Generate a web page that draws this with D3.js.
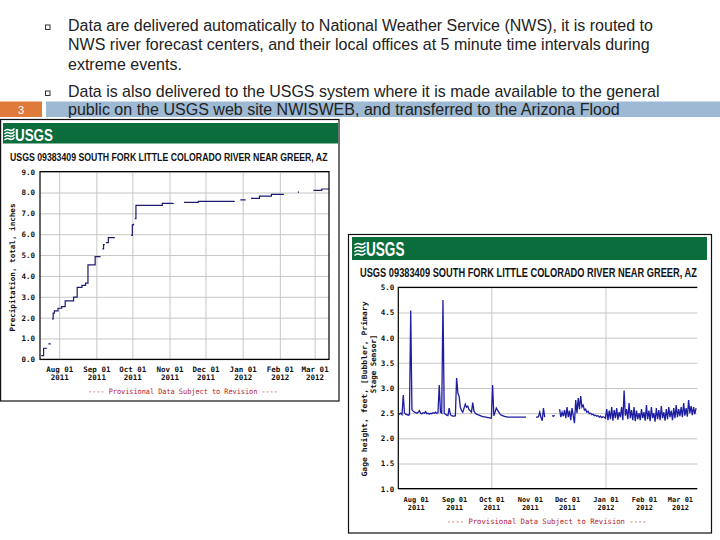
<!DOCTYPE html>
<html>
<head>
<meta charset="utf-8">
<script src="https://cdnjs.cloudflare.com/ajax/libs/d3/7.8.5/d3.min.js"></script>
<style>
  body { margin: 0; background: #fff; }
  svg { display: block; }
</style>
</head>
<body>
<script>
// slide text
const bulletText = [
  ["Data are delivered automatically to National Weather Service (NWS), it is routed to",
   "NWS river forecast centers, and their local offices at 5 minute time intervals during",
   "extreme events."],
  ["Data is also delivered to the USGS system where it is made available to the general",
   "public on the USGS web site NWISWEB, and transferred to the Arizona Flood"]
];
const slideNumber = "3";
const stationTitle = "USGS 09383409 SOUTH FORK LITTLE COLORADO RIVER NEAR GREER, AZ";
const provisional = "---- Provisional Data Subject to Revision ----";

// x axis ticks (shared by both graphs)
const monthTicks = ["2011-08-01", "2011-09-01", "2011-10-01", "2011-11-01",
                    "2011-12-01", "2012-01-01", "2012-02-01", "2012-03-01"];
const monthLabels = ["Aug 01", "Sep 01", "Oct 01", "Nov 01", "Dec 01", "Jan 01", "Feb 01", "Mar 01"];
const yearLabels = ["2011", "2011", "2011", "2011", "2011", "2012", "2012", "2012"];

// precipitation, total, inches (cumulative, gaps = null)
const precipDates = [
  "2011-07-17", "2011-07-19", "2011-07-22", "2011-07-22", "2011-07-23", "2011-07-25", "2011-07-25",
  "2011-07-26", "2011-07-27", "2011-07-28", "2011-07-31", "2011-08-03", "2011-08-06", "2011-08-13",
  "2011-08-16", "2011-08-20", "2011-08-23", "2011-08-25", "2011-08-31", "2011-09-04", "2011-09-04",
  "2011-09-06", "2011-09-07", "2011-09-08", "2011-09-08", "2011-09-09", "2011-09-11", "2011-09-16",
  "2011-09-16", "2011-09-30", "2011-10-01", "2011-10-02", "2011-10-02", "2011-10-03", "2011-10-04",
  "2011-10-26", "2011-11-04", "2011-11-04", "2011-11-13", "2011-11-25", "2011-12-25", "2011-12-25",
  "2011-12-30", "2012-01-03", "2012-01-03", "2012-01-08", "2012-01-15", "2012-01-25", "2012-02-04",
  "2012-02-04", "2012-02-16", "2012-02-17", "2012-02-17", "2012-02-29", "2012-03-07", "2012-03-13"
];
const precipValues = [
  0.18, 0.53, 0.53, null, 0.74, 0.74, null,
  1.94, 2.22, 2.32, 2.45, 2.53, 2.80, 2.98,
  3.45, 3.55, 3.65, 4.53, 4.93, 4.95, null,
  5.30, 5.50, 5.50, null, 5.60, 5.84, 5.86,
  null, 5.95, 6.45, 6.50, null, 6.75, 7.38,
  7.48, 7.50, null, 7.53, 7.58, 7.60, null,
  7.65, 7.68, null, 7.72, 7.83, 7.91, 7.93,
  null, 8.02, 8.02, null, 8.10, 8.17, 8.17
];

// gage height, feet: one reading per day from stageStart (gaps = null)
const stageStart = "2011-07-18";
const stageJul = [2.50, 2.48, 2.50, 2.47, 2.86, 2.50, 2.48, 2.47, 2.46, 2.47, 4.54, 2.57, 2.54, 2.52];
const stageAug = [2.51, 2.50, 2.52, 2.55, 2.50, 2.49, 2.51, 2.50, 2.53, 2.49, 2.50, 2.48, 2.50, 2.49, 2.51, 2.50,
                  2.52, 2.50, 2.51, 3.06, 2.52, 2.50, 4.75, 2.50, 2.48, 2.46, 2.45, 2.60, 2.47, 2.45, 2.44];
const stageSep = [2.44, 2.45, 3.20, 2.90, 2.84, 2.62, 2.55, 2.52, 2.60, 2.68, 2.62, 2.64, 2.57, 2.55, 2.52,
                  2.71, 2.54, 2.50, 2.48, 2.47, 2.46, 2.45, 2.44, 2.43, 2.43, 2.42, 2.42, 2.41, 2.41, 2.40];
const stageOct = [2.40, 3.06, 2.45, 2.52, 2.60, 2.56, 2.52, 2.48, 2.46, 2.45, 2.44, 2.43, 2.43, 2.42, 2.42, 2.42,
                  2.42, 2.42, 2.42, 2.42, 2.42, 2.42, 2.42, 2.42, 2.42, 2.42, 2.42, 2.42, 2.42, null, null];
const stageNov = [null, null, null, null, null, 2.42, 2.42, 2.43, 2.52, 2.42, 2.35, 2.60, 2.42, null, null,
                  null, null, null, 2.45, 2.44, 2.46, null, null, null, 2.58, 2.42, 2.52, 2.44, 2.56, 2.40];
const stageDec = [2.62, 2.42, 2.55, 2.36, 2.60, 2.45, 2.30, 2.76, 2.50, 2.80, 2.58, 2.84, 2.62, 2.66, 2.56, 2.58,
                  2.52, 2.54, 2.49, 2.50, 2.47, 2.48, 2.45, 2.46, 2.44, 2.45, 2.42, 2.44, 2.41, 2.43, 2.42];
const stageJan = [2.40, 2.58, 2.36, 2.55, 2.38, 2.62, 2.35, 2.56, 2.40, 2.60, 2.37, 2.52, 2.42, 2.62, 2.36, 2.95,
                  2.45, 2.58, 2.38, 2.70, 2.40, 2.56, 2.36, 2.62, 2.34, 2.55, 2.38, 2.50, 2.36, 2.58, 2.40];
const stageFeb = [2.52, 2.35, 2.66, 2.38, 2.55, 2.34, 2.62, 2.40, 2.50, 2.33, 2.60, 2.38, 2.56, 2.36, 2.64,
                  2.40, 2.52, 2.35, 2.58, 2.38, 2.62, 2.42, 2.55, 2.36, 2.60, 2.40, 2.66, 2.42, 2.58];
const stageMar = [2.44, 2.62, 2.42, 2.70, 2.45, 2.60, 2.43, 2.76, 2.50, 2.64, 2.46, 2.62, 2.48, 2.60];

const precipTicks = [0, 1, 2, 3, 4, 5, 6, 7, 8, 9];
const stageTicks = [1.0, 1.5, 2.0, 2.5, 3.0, 3.5, 4.0, 4.5, 5.0];

const parse = d3.timeParse("%Y-%m-%d");
const mono = "'DejaVu Sans Mono', monospace";
const sans = "'Liberation Sans', Arial, sans-serif";

const svg = d3.select("body").append("svg")
  .attr("width", 720)
  .attr("height", 540);

// squeeze a text horizontally to a given width (condensed look)
function fitWidth(sel, x, y, w) {
  const natural = sel.node().getComputedTextLength();
  sel.attr("transform", `translate(${x},${y}) scale(${w / natural},1)`);
}

// ---- slide ----
svg.append("rect").attr("x", 0).attr("y", 101.5).attr("width", 42).attr("height", 15.5).attr("fill", "#e07a3b");
svg.append("rect").attr("x", 46).attr("y", 101.5).attr("width", 674).attr("height", 15.5).attr("fill", "#9db9d3");
svg.append("text")
  .attr("x", 21).attr("y", 113.5)
  .attr("text-anchor", "middle")
  .attr("fill", "#fff")
  .style("font", `11px ${sans}`)
  .text(slideNumber);

const lineBase = [[30.5, 50, 69.5], [96.5, 114.5]];
const lineWidth = [[585, 582, 114], [592, 552]];
bulletText.forEach((lines, b) => {
  svg.append("rect")
    .attr("x", 45.5).attr("y", lineBase[b][0] - 5.5)
    .attr("width", 4.5).attr("height", 4.5)
    .attr("fill", "#fff").attr("stroke", "#333").attr("stroke-width", 1);
  lines.forEach((t, i) => {
    const txt = svg.append("text")
      .attr("fill", "#222")
      .style("font", `16px ${sans}`)
      .text(t);
    fitWidth(txt, 68, lineBase[b][i], lineWidth[b][i]);
  });
});

function drawLogo(g, lx, ly, w, h, tx, tBase, tSize, tW) {
  const icon = g.append("g").attr("transform", `translate(${lx},${ly})`);
  for (let i = 0; i < 4; i++) {
    const yy = 1.5 + i * (h - 3) / 3;
    icon.append("path")
      .attr("d", `M0,${yy + 1} q${w / 4},-2.5 ${w / 2},-1 t${w / 2},-1.5`)
      .attr("fill", "none").attr("stroke", "#fff").attr("stroke-width", 1.5);
  }
  const t = g.append("text")
    .attr("fill", "#fff")
    .style("font", `bold ${tSize}px ${sans}`)
    .text("USGS");
  fitWidth(t, tx, tBase, tW);
}

function drawChart(cfg) {
  const g = svg.append("g");
  const f = cfg.frame, p = cfg.plot;

  g.append("rect").attr("x", f[0]).attr("y", f[1]).attr("width", f[2]).attr("height", f[3])
    .attr("fill", "#fff").attr("stroke", "#111").attr("stroke-width", 1.2);
  g.append("rect").attr("x", cfg.banner[0]).attr("y", cfg.banner[1])
    .attr("width", cfg.banner[2]).attr("height", cfg.banner[3]).attr("fill", "#0b6c3c");
  drawLogo(g, ...cfg.logo);

  const title = g.append("text")
    .attr("fill", "#111")
    .style("font", `bold ${cfg.title[2]}px ${sans}`)
    .text(stationTitle);
  fitWidth(title, cfg.title[0], cfg.title[1], cfg.title[3]);

  const x = d3.scaleTime().domain(cfg.xDomain.map(parse)).range([p.x0, p.x1]);
  const y = d3.scaleLinear().domain(d3.extent(cfg.yTicks)).range([p.y1, p.y0]);

  // grid
  g.append("g")
    .attr("transform", `translate(${p.x0},0)`)
    .call(d3.axisLeft(y).tickValues(cfg.yTicks).tickSize(-(p.x1 - p.x0)).tickFormat(""))
    .call(a => a.select(".domain").remove())
    .selectAll("line").attr("stroke", "#c6c6c6");
  g.append("g")
    .attr("transform", `translate(0,${p.y1})`)
    .call(d3.axisBottom(x).tickValues(cfg.gridDates.map(parse)).tickSize(-(p.y1 - p.y0)).tickFormat(""))
    .call(a => a.select(".domain").remove())
    .selectAll("line").attr("stroke", "#c6c6c6");

  // data line
  const line = d3.line()
    .defined(d => d.v != null)
    .x(d => x(d.t))
    .y(d => y(d.v))
    .curve(cfg.curve);
  g.append("path")
    .datum(cfg.data)
    .attr("d", line)
    .attr("fill", "none")
    .attr("stroke", cfg.color)
    .attr("stroke-width", cfg.lineWidth);

  // plot border
  const border = cfg.closed
    ? `M${p.x0},${p.y0}H${p.x1}V${p.y1}H${p.x0}Z`
    : `M${p.x1},${p.y0}H${p.x0}V${p.y1}H${p.x1}`;
  g.append("path").attr("d", border).attr("fill", "none").attr("stroke", "#000").attr("stroke-width", 1.2);

  // y tick labels
  g.append("g")
    .attr("transform", `translate(${p.x0},0)`)
    .call(d3.axisLeft(y).tickValues(cfg.yTicks).tickSize(0).tickPadding(cfg.yPad).tickFormat(d3.format(".1f")))
    .call(a => a.select(".domain").remove())
    .selectAll("text")
    .attr("fill", "#111")
    .style("font", `bold ${cfg.yFont}px ${mono}`);

  // x tick labels (two lines)
  g.append("g")
    .attr("transform", `translate(0,${p.y1})`)
    .call(d3.axisBottom(x).tickValues(monthTicks.map(parse)).tickSize(0).tickFormat(""))
    .call(a => a.select(".domain").remove())
    .selectAll(".tick text")
    .each(function(d, i) {
      const t = d3.select(this).text(null).attr("dy", null).attr("y", cfg.xLab[0])
        .attr("fill", "#111")
        .style("font", `bold ${cfg.xFont}px ${mono}`);
      t.append("tspan").attr("x", 0).text(monthLabels[i]);
      t.append("tspan").attr("x", 0).attr("dy", cfg.xLab[1]).text(yearLabels[i]);
    });

  // y axis title
  cfg.yTitle.forEach(yt => {
    const t = g.append("text")
      .attr("transform", `translate(${yt.x},${yt.y}) rotate(-90)`)
      .attr("text-anchor", "middle")
      .attr("dy", "0.35em")
      .attr("fill", "#111")
      .style("font", `bold ${yt.size}px ${mono}`)
      .text(yt.text);
    if (yt.w) t.attr("textLength", yt.w).attr("lengthAdjust", "spacingAndGlyphs");
  });

  g.append("text")
    .attr("x", cfg.prov[0]).attr("y", cfg.prov[1])
    .attr("text-anchor", "middle")
    .attr("textLength", cfg.prov[2]).attr("lengthAdjust", "spacingAndGlyphs")
    .attr("fill", "#b8202a")
    .style("font", `${cfg.prov[3]}px ${mono}`)
    .text(provisional);
}

const precipData = precipDates.map((d, i) => ({ t: parse(d), v: precipValues[i] }));
const stageValues = [].concat(stageJul, stageAug, stageSep, stageOct, stageNov, stageDec, stageJan, stageFeb, stageMar);
const stageData = stageValues.map((v, i) => ({ t: d3.timeDay.offset(parse(stageStart), i), v: v }));

drawChart({
  frame: [0.6, 119.5, 338.4, 281.5],
  banner: [3, 123, 335, 20.5],
  logo: [4.5, 128.5, 10, 12, 15, 140.5, 17, 38],
  title: [10, 160.5, 11, 318],
  plot: { x0: 40, x1: 329, y0: 171.7, y1: 359.3 },
  xDomain: ["2011-07-16", "2012-03-13"],
  yTicks: precipTicks,
  gridDates: monthTicks,
  data: precipData,
  curve: d3.curveStepAfter,
  color: "#1c1c6e",
  lineWidth: 1.2,
  closed: true,
  yPad: 5,
  yFont: 7.5,
  xFont: 7.5,
  xLab: [12.5, 8],
  yTitle: [{ x: 12, y: 267.5, size: 7.4, text: "Precipitation, total, inches", w: 128 }],
  prov: [183, 393.5, 190, 7.5]
});

drawChart({
  frame: [348.5, 234.5, 363, 298.5],
  banner: [352, 237, 355, 23],
  logo: [354.5, 242.5, 11, 13.5, 366, 256, 20, 38.5],
  title: [360, 277, 12, 337],
  plot: { x0: 398.3, x1: 697.3, y0: 287.3, y1: 488.7 },
  xDomain: ["2011-07-18", "2012-03-15"],
  yTicks: stageTicks,
  gridDates: ["2011-10-01", "2012-01-01"],
  data: stageData,
  curve: d3.curveLinear,
  color: "#1d1da2",
  lineWidth: 1.3,
  closed: false,
  yPad: 4,
  yFont: 7.5,
  xFont: 7,
  xLab: [13, 8.4],
  yTitle: [
    { x: 364.5, y: 389, size: 7.5, text: "Gage height, feet, [Bubbler, Primary", w: 175 },
    { x: 373.5, y: 364, size: 7.5, text: "Stage Sensor]" }
  ],
  prov: [546.7, 524.3, 200, 7.5]
});
</script>
</body>
</html>
